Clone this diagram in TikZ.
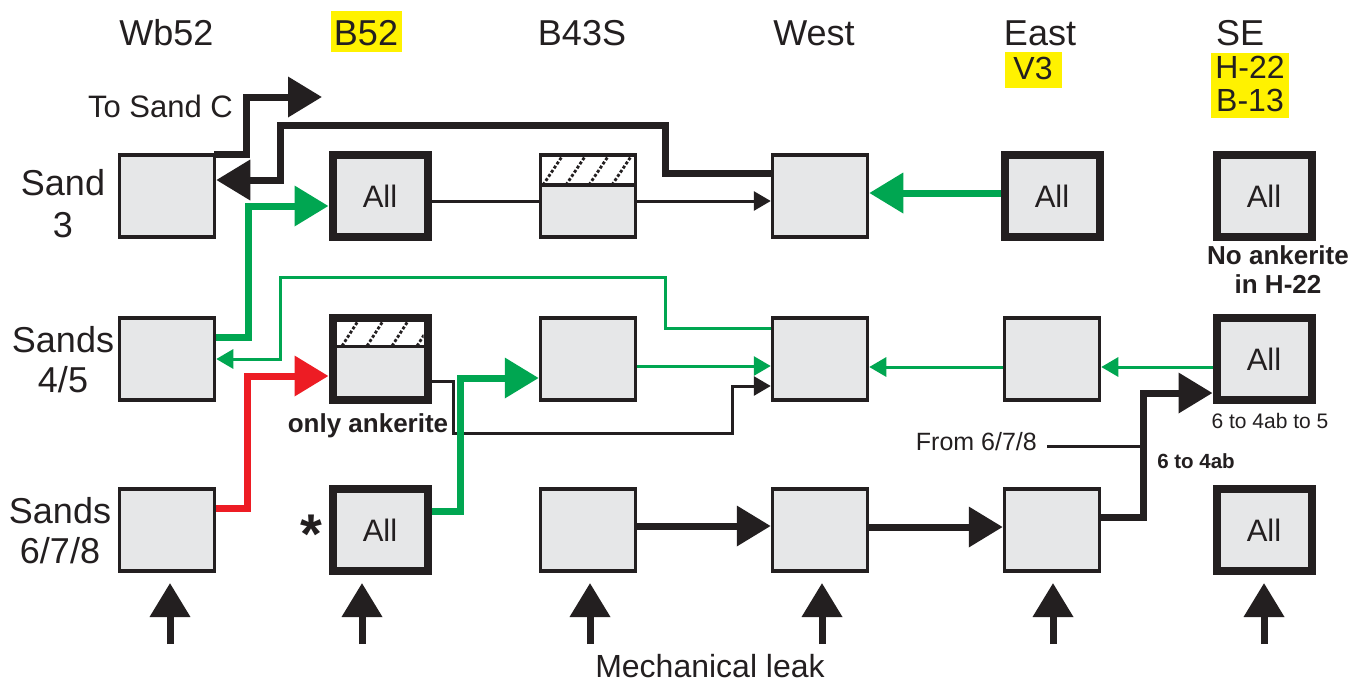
\documentclass[tikz,border=0pt]{standalone}
\usepackage{fontspec}
\setmainfont{Liberation Sans}
\usetikzlibrary{arrows.meta,calc}
\definecolor{boxgray}{HTML}{E6E7E8}
\definecolor{blk}{HTML}{231F20}
\definecolor{grn}{HTML}{00A651}
\definecolor{rd}{HTML}{ED1C24}
\definecolor{yel}{HTML}{FFF200}
\newcommand\fsz[1]{\fontsize{#1pt}{#1pt}\selectfont}
\begin{document}
\begin{tikzpicture}[x=1pt,y=-1pt,
  box/.style={draw=blk, fill=boxgray, line width=3.5pt, minimum width=95pt, minimum height=82pt, inner sep=0pt, font=\fsz{31}, text=blk},
  tbox/.style={box, line width=8pt},
  thk/.style={draw=blk, line width=7pt},
  thn/.style={draw=blk, line width=3pt},
  gthk/.style={draw=grn, line width=7pt},
  gthn/.style={draw=grn, line width=3pt},
  rthk/.style={draw=rd, line width=7pt},
  bigtip/.style={-{Triangle[length=34pt,width=39pt]}},
  smalltip/.style={-{Triangle[length=17pt,width=19pt]}},
  lbl/.style={inner sep=0pt, anchor=base, text=blk},
  hatchline/.style={draw=blk, line width=2.8pt, dash pattern=on 3pt off 2pt}
]
\useasboundingbox (0,0) rectangle (1356,683);
\fill[white] (0,0) rectangle (1356,683);

% highlights
\fill[yel] (331,11) rectangle (402,52);
\fill[yel] (1005,52) rectangle (1062,88);
\fill[yel] (1211,53) rectangle (1289,118);

% headers
\node[lbl, font=\fsz{36}] (hwb) at (166.5,45) {Wb52};
\node[lbl, font=\fsz{36}] (hb52) at (366,45) {B52};
\node[lbl, font=\fsz{36}] (hb43) at (582,45) {B43S};
\node[lbl, font=\fsz{36}] (hwest) at (814,45) {West};
\node[lbl, font=\fsz{36}] (heast) at (1040,45) {East};
\node[lbl, font=\fsz{36}] (hse) at (1240,45) {SE};
\node[lbl, font=\fsz{32}] (hv3) at (1033,79) {V3};
\node[lbl, font=\fsz{32}] (hh22) at (1250,78) {H-22};
\node[lbl, font=\fsz{32}] (hb13) at (1250,111) {B-13};

% row labels
\node[lbl, font=\fsz{36}] (ra1) at (63,195) {Sand};
\node[lbl, font=\fsz{36}] (rb1) at (63,237) {3};
\node[lbl, font=\fsz{36}] (ra2) at (63,352) {Sands};
\node[lbl, font=\fsz{36}] (rb2) at (63,392) {4/5};
\node[lbl, font=\fsz{36}] (ra3) at (60,523) {Sands};
\node[lbl, font=\fsz{36}] (rb3) at (60,563) {6/7/8};

% boxes
\node[box]  (c1r1) at (167,196) {};
\node[tbox] (c2r1) at (380,196) {All};
\node[box]  (c3r1) at (588,196) {};
\node[box]  (c4r1) at (820,196) {};
\node[tbox] (c5r1) at (1052,196) {All};
\node[tbox] (c6r1) at (1264,196) {All};
\node[box]  (c1r2) at (167,359) {};
\node[tbox] (c2r2) at (380,359) {};
\node[box]  (c3r2) at (588,359) {};
\node[box]  (c4r2) at (820,359) {};
\node[box]  (c5r2) at (1052,359) {};
\node[tbox] (c6r2) at (1264,359) {All};
\node[box]  (c1r3) at (167,530) {};
\node[tbox] (c2r3) at (380,530) {All};
\node[box]  (c3r3) at (588,530) {};
\node[box]  (c4r3) at (820,530) {};
\node[box]  (c5r3) at (1052,530) {};
\node[tbox] (c6r3) at (1264,530) {All};

% hatched strips
\filldraw[fill=white, draw=blk, line width=3.5pt] (540.5,155) rectangle (635.5,185);
\begin{scope}
  \clip (542.25,156.75) rectangle (633.75,183.25);
  \foreach \x in {543,566,589,612} \draw[hatchline] (\x,185) -- (\x+20,155);
\end{scope}
\fill[white] (336.5,322) rectangle (423.5,345);
\draw[blk, line width=3.5pt] (336.5,346.5) -- (423.5,346.5);
\begin{scope}
  \clip (336.5,322) rectangle (423.5,344.75);
  \foreach \x in {342,367,392,417} \draw[hatchline] (\x,346) -- (\x+16,321);
\end{scope}

% extra labels
\node[lbl, font=\fsz{31}] (tosc) at (233,117) [anchor=base east] {To Sand C};
\node[lbl, font=\bfseries\fsz{26}] (onlyank) at (368,432) {only ankerite};
\node[lbl, font=\bfseries\fsz{26}] (noank1) at (1278,264) {No ankerite};
\node[lbl, font=\bfseries\fsz{26}] (noank2) at (1278,293) {in H-22};
\node[lbl, font=\fsz{21}] (t645) at (1270,428) {6 to 4ab to 5};
\node[lbl, font=\bfseries\fsz{20.5}] (t64) at (1196,468) {6 to 4ab};
\node[lbl, font=\fsz{25}] (from) at (1037,450) [anchor=base east] {From 6/7/8};
\node[lbl, font=\bfseries\fsz{56}] (star) at (311,553) {*};
\node[lbl, font=\fsz{32}] (mech) at (710,677) {Mechanical leak};

% coordinates for bends and free ends
\coordinate (tosctip) at (322,97);
\coordinate (bk1) at (665,125);
\coordinate (bk2) at (280,180);
\coordinate (g1) at (248,206);
\coordinate (gt1) at (665,277);
\coordinate (gt2) at (280,359);
\coordinate (r1) at (247,376);
\coordinate (tb1) at (453,433);
\coordinate (tb2) at (732,386);
\coordinate (g2) at (460,378);
\coordinate (k1) at (1143,393);
\coordinate (fromstart) at (1047,446);
\coordinate (fromend) at (1143,446);

% connectors
\draw[thk, bigtip] ($(c1r1.north east)+(-2,1.5)$) -- ++(32,0) |- (tosctip);
\draw[thk, bigtip] ($(c4r1.west)+(0,-23)$) -| (bk1) -| (bk2) -- ($(c1r1.east)+(0,-16)$);
\draw[thn] ($(c2r1.east)+(0,5)$) -- ($(c3r1.west)+(0,5)$);
\draw[thn, smalltip] ($(c3r1.east)+(0,5)$) -- ($(c4r1.west)+(0,5)$);
\draw[gthk, bigtip] ($(c5r1.west)+(0,-3)$) -- ($(c4r1.east)+(0,-3)$);
\draw[gthk, bigtip] ($(c1r2.east)+(0,-22)$) -| (g1) -- ($(c2r1.west)+(0,10)$);
\draw[gthn, smalltip] ($(c4r2.west)+(0,-31)$) -| (gt1) -| (gt2) -- (c1r2.east);
\draw[rthk, bigtip] ($(c1r3.east)+(0,-22)$) -| (r1) -- ($(c2r2.west)+(0,17)$);
\draw[thn, smalltip] ($(c2r2.east)+(0,22)$) -| (tb1) -| (tb2) -- ($(c4r2.west)+(0,27)$);
\draw[gthk, bigtip] ($(c2r3.east)+(0,-19)$) -| (g2) -- ($(c3r2.west)+(0,19)$);
\draw[gthn, smalltip] ($(c3r2.east)+(0,7)$) -- ($(c4r2.west)+(0,7)$);
\draw[gthn, smalltip] ($(c5r2.west)+(0,8)$) -- ($(c4r2.east)+(0,8)$);
\draw[gthn, smalltip] ($(c6r2.west)+(0,8)$) -- ($(c5r2.east)+(0,8)$);
\draw[thk, bigtip] ($(c3r3.east)+(0,-4)$) -- ($(c4r3.west)+(0,-4)$);
\draw[thk, bigtip] ($(c4r3.east)+(0,-3)$) -- ($(c5r3.west)+(0,-3)$);
\draw[thk, bigtip] ($(c5r3.east)+(0,-13)$) -| (k1) -- ($(c6r2.west)+(0,34)$);
\draw[thn] (fromstart) -- (fromend);

% mechanical leak arrows
\foreach \n/\x in {1/170,2/362,3/590,4/822,5/1053,6/1264}{
  \coordinate (lb\n) at (\x,644);
  \coordinate (lt\n) at (\x,583);
  \draw[thk, bigtip] (lb\n) -- (lt\n);
}
\end{tikzpicture}
\end{document}
